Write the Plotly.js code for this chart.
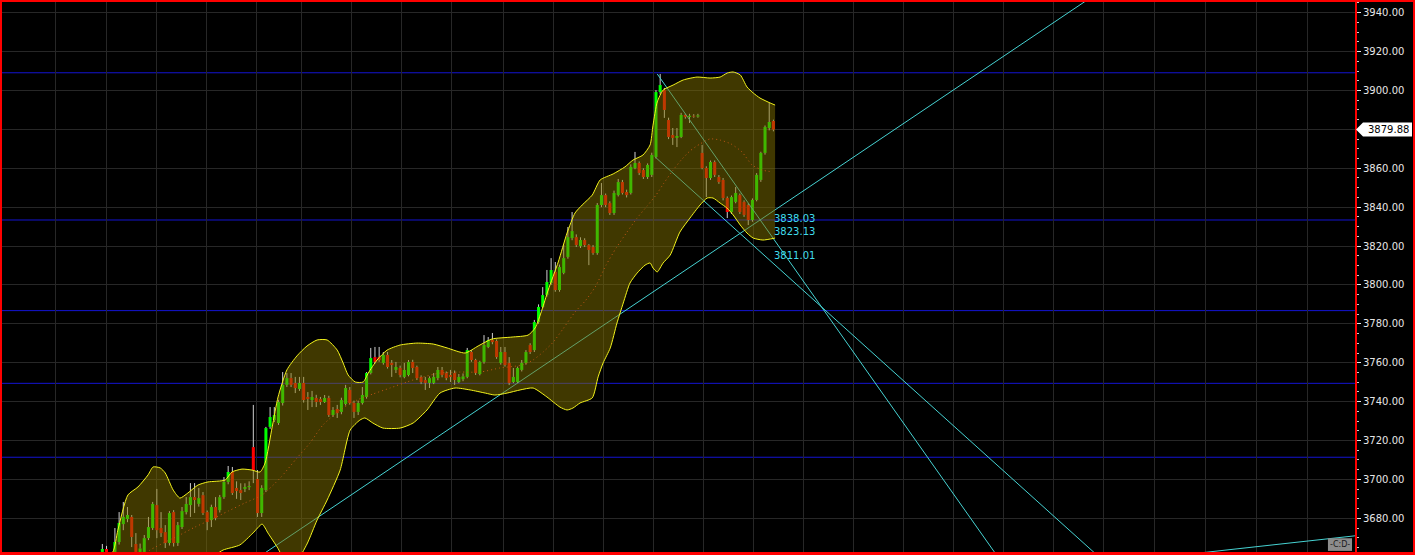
<!DOCTYPE html>
<html><head><meta charset="utf-8">
<script src="https://cdn.plot.ly/plotly-3.0.1.min.js"></script>
<style>
html,body{margin:0;padding:0;background:#000;overflow:hidden}
#chart{width:1415px;height:555px;position:absolute;left:0;top:0}
#frame{position:absolute;left:0;top:0;width:1415px;height:555px;box-sizing:border-box;border-style:solid;border-color:#ff0000;border-width:2px 2px 3px 2px;pointer-events:none}
</style></head><body>
<div id="chart"></div><div id="frame"></div>
<script>
// ---- candles (one per bar, oldest first) ----
const opens = [3662.7,3664.2,3661.0,3659.6,3667.8,3677.0,3679.6,3680.7,3666.8,3662.0,
3662.7,3669.8,3675.0,3686.8,3675.0,3672.9,3667.3,3683.2,3667.3,3675.5,
3683.2,3686.8,3690.9,3687.4,3691.9,3683.2,3679.1,3685.8,3684.2,3690.9,
3698.7,3703.8,3695.6,3694.5,3695.1,3696.0,3716.6,3700.2,3682.7,3694.5,
3727.0,3730.5,3729.0,3739.3,3748.6,3752.1,3749.6,3746.5,3749.6,3742.4,
3740.8,3741.9,3741.3,3739.8,3741.9,3733.1,3736.2,3734.7,3738.8,3746.0,
3739.3,3734.7,3739.3,3742.4,3754.7,3762.9,3762.9,3759.9,3764.0,3759.9,
3756.3,3757.3,3752.7,3753.7,3760.4,3757.8,3752.7,3751.1,3749.6,3749.6,
3752.1,3756.3,3754.7,3753.7,3754.7,3750.1,3751.5,3752.7,3765.5,3761.4,
3754.2,3760.4,3768.1,3771.7,3771.2,3759.9,3765.5,3759.9,3750.1,3750.1,
3756.3,3759.9,3769.1,3766.5,3780.9,3788.7,3794.8,3801.0,3806.7,3797.4,
3806.2,3814.4,3824.1,3824.6,3820.0,3823.1,3820.5,3819.5,3816.4,3841.1,
3846.2,3842.1,3837.0,3846.2,3852.9,3847.8,3847.3,3860.1,3862.7,3859.1,
3855.5,3856.6,3865.8,3899.2,3900.2,3884.8,3877.1,3875.6,3876.1,3887.4,
3886.4,3887.0,3886.6,3867.9,3860.1,3855.0,3863.2,3855.5,3854.0,3844.7,
3837.5,3842.7,3846.2,3842.7,3841.1,3833.4,3843.7,3854.0,3867.9,3880.7,
3884.3];
const highs = [3666.8,3665.8,3662.0,3675.0,3683.2,3688.4,3685.8,3681.7,3672.4,3667.0,
3671.4,3680.7,3688.4,3695.1,3683.2,3676.5,3683.7,3684.2,3678.1,3685.8,
3690.9,3698.1,3698.1,3695.6,3693.5,3684.0,3687.0,3690.9,3692.0,3701.2,
3706.9,3706.4,3699.0,3698.0,3698.0,3699.0,3738.3,3704.8,3697.0,3727.0,
3737.2,3737.2,3741.0,3755.2,3754.7,3754.7,3752.7,3752.7,3752.7,3744.9,
3745.5,3743.5,3742.4,3743.4,3743.0,3737.2,3738.3,3742.0,3748.6,3747.5,
3740.5,3740.5,3747.5,3755.2,3767.6,3768.1,3768.1,3765.5,3765.5,3761.4,
3760.4,3758.5,3759.9,3761.4,3761.5,3758.5,3753.5,3752.7,3753.0,3754.7,
3757.8,3757.8,3755.5,3756.3,3756.0,3754.2,3754.5,3767.6,3766.5,3762.0,
3761.0,3774.2,3773.2,3775.3,3772.0,3768.1,3768.1,3762.9,3757.3,3758.0,
3761.4,3766.5,3770.0,3782.0,3790.0,3798.9,3807.7,3813.8,3811.8,3810.5,
3820.5,3829.8,3837.5,3826.0,3824.5,3824.0,3821.0,3820.5,3842.1,3852.4,
3847.0,3843.0,3848.5,3854.5,3854.0,3849.0,3862.0,3868.4,3863.5,3860.0,
3862.5,3868.0,3900.2,3908.5,3901.3,3886.0,3880.7,3880.7,3888.5,3888.0,
3888.0,3887.8,3888.0,3872.0,3861.0,3864.0,3864.0,3856.5,3855.0,3845.5,
3846.0,3850.4,3847.0,3843.5,3842.0,3844.5,3857.5,3868.5,3882.0,3893.6,
3885.0];
const lows = [3661.1,3660.5,3657.5,3658.5,3666.5,3673.9,3678.0,3665.2,3660.0,3660.5,
3661.0,3668.8,3674.0,3669.8,3670.4,3664.7,3666.0,3665.5,3665.8,3674.5,
3682.0,3680.7,3682.7,3686.0,3681.7,3673.9,3675.5,3679.0,3683.0,3690.0,
3697.5,3692.0,3690.0,3689.4,3693.5,3694.5,3698.1,3680.7,3680.7,3693.5,
3726.0,3729.5,3728.0,3738.0,3747.5,3747.5,3744.4,3745.5,3739.5,3735.7,
3737.2,3737.2,3738.3,3739.3,3732.1,3732.1,3731.6,3733.5,3738.0,3738.5,
3731.6,3733.1,3738.5,3741.5,3754.0,3759.5,3760.5,3759.0,3757.0,3752.7,
3754.7,3752.5,3752.0,3753.0,3754.7,3751.1,3749.0,3746.0,3747.0,3749.0,
3751.0,3752.5,3751.0,3750.1,3748.6,3749.5,3750.5,3752.0,3760.5,3753.7,
3753.5,3759.5,3767.5,3769.5,3762.0,3759.0,3758.0,3748.5,3749.5,3749.5,
3755.5,3759.0,3764.5,3765.5,3780.0,3788.0,3794.0,3800.0,3796.5,3796.5,
3805.5,3813.5,3823.0,3819.5,3819.0,3819.5,3810.2,3815.5,3815.5,3840.0,
3840.0,3836.0,3836.0,3845.5,3846.5,3845.0,3846.5,3859.5,3856.5,3854.5,
3854.5,3855.5,3865.0,3898.0,3885.9,3875.0,3872.0,3870.9,3875.5,3885.5,
3883.3,3886.0,3886.0,3859.5,3845.2,3854.0,3855.5,3852.0,3843.5,3834.4,
3836.5,3842.0,3836.5,3835.0,3830.8,3832.5,3843.0,3853.0,3867.0,3879.5,
3879.0];
const closes = [3664.2,3662.7,3659.0,3667.8,3677.6,3680.7,3681.7,3670.4,3662.7,3664.5,
3669.8,3675.5,3687.4,3673.9,3672.4,3667.3,3682.7,3667.3,3676.5,3683.7,
3687.4,3690.9,3689.4,3690.4,3682.7,3678.1,3685.8,3680.1,3690.9,3698.7,
3703.8,3693.0,3694.0,3693.0,3696.1,3696.6,3704.8,3682.7,3695.6,3726.4,
3732.1,3733.1,3739.8,3748.6,3752.1,3748.6,3747.0,3749.6,3740.8,3741.3,
3742.4,3739.8,3739.8,3741.9,3733.1,3735.7,3734.1,3740.8,3747.0,3739.3,
3734.7,3739.3,3743.4,3754.7,3762.4,3760.4,3761.4,3764.0,3757.8,3758.8,
3757.8,3753.7,3756.3,3760.4,3757.3,3752.1,3750.1,3749.6,3752.1,3752.7,
3756.3,3753.7,3752.1,3752.7,3751.1,3752.7,3753.0,3766.5,3761.4,3754.7,
3760.4,3769.1,3771.7,3770.6,3762.9,3765.5,3758.8,3749.6,3752.7,3757.3,
3759.9,3765.5,3765.5,3780.9,3788.7,3794.8,3801.5,3807.7,3797.4,3809.2,
3813.8,3824.6,3827.7,3820.5,3823.1,3820.5,3818.0,3816.4,3841.1,3846.2,
3841.1,3837.0,3847.3,3852.9,3847.3,3846.2,3860.7,3862.7,3857.6,3855.5,
3861.7,3866.8,3899.2,3902.8,3890.0,3876.1,3875.6,3876.6,3887.4,3886.4,
3887.0,3886.6,3887.2,3860.1,3855.0,3863.2,3856.6,3852.9,3844.7,3837.5,
3845.2,3847.3,3837.5,3836.0,3833.4,3843.7,3856.6,3867.9,3881.2,3883.8,
3879.88];

// ---- Bollinger band (bar position, price) ----
const upperX = [-0.5,2.5,3.7,6.1,8.5,10.9,12.1,13.8,15.0,16.9,18.5,20.4,22.8,25.2,29.3,30.9,33.3,35.7,37.6,38.8,40.5,41.9,44.0,46.4,48.8,51.2,53.6,56.0,57.4,58.6,60.3,62.2,63.4,65.5,67.9,71.0,75.0,78.9,82.2,86.5,89.6,92.9,97.7,101.5,103.2,104.8,106.3,108.7,110.8,112.7,114.4,116.8,118.7,121.8,124.6,126.5,128.9,130.6,131.3,132.3,133.7,136.1,138.5,141.8,144.9,147.3,149.0,150.4,152.1,153.7,155.2,156.8,159.2,160.4];
const upperY = [3658.5,3662.7,3673.9,3692.0,3696.1,3702.3,3706.4,3705.9,3703.3,3694.5,3690.4,3693.0,3697.1,3698.7,3699.7,3703.8,3705.3,3704.8,3703.8,3708.4,3727.0,3742.4,3756.3,3763.5,3768.6,3771.7,3771.7,3766.5,3759.9,3753.7,3750.1,3750.1,3754.7,3761.4,3766.5,3769.1,3770.1,3769.6,3767.6,3765.0,3768.6,3772.2,3773.2,3774.2,3777.9,3787.1,3797.4,3811.8,3826.7,3837.0,3841.1,3846.2,3854.0,3857.1,3860.7,3864.2,3866.8,3872.0,3882.2,3894.1,3900.2,3902.8,3905.4,3906.9,3906.4,3906.9,3909.0,3909.5,3908.0,3901.8,3898.7,3896.1,3893.6,3892.5];
const lowerX = [-0.5,11.4,18.0,23.3,26.9,28.8,32.8,35.9,38.1,39.5,41.7,43.6,46.4,48.8,51.2,53.6,56.7,59.1,61.4,62.6,64.5,66.9,71.0,74.1,77.4,80.5,84.1,87.7,91.3,93.6,96.5,99.6,102.7,106.0,109.1,110.8,112.2,113.9,116.8,118.2,119.4,121.1,122.7,124.2,125.8,127.5,129.4,130.6,131.3,132.3,133.7,135.4,137.7,140.1,142.5,144.2,145.6,147.3,148.9,150.4,152.1,153.7,155.2,157.5,160.4];
const lowerY = [3617.4,3625.1,3650.3,3656.5,3661.1,3663.7,3666.3,3672.4,3677.0,3672.4,3665.2,3658.5,3658.5,3666.8,3679.1,3689.4,3704.8,3725.4,3730.5,3731.6,3729.0,3726.4,3726.4,3729.0,3735.7,3744.4,3747.0,3746.0,3744.4,3743.4,3744.4,3746.0,3747.0,3742.4,3737.2,3735.7,3736.7,3739.3,3741.9,3752.7,3759.9,3767.6,3780.4,3790.7,3801.0,3806.1,3810.2,3811.3,3808.7,3806.7,3811.3,3815.4,3827.2,3834.4,3841.1,3844.7,3844.7,3842.1,3839.6,3836.0,3830.8,3826.7,3824.1,3823.1,3824.1];
const midX = [6.6,11.4,15.0,18.0,22.1,25.7,30.0,34.0,38.1,42.4,46.4,49.5,52.6,56.7,60.7,64.5,68.6,72.6,76.5,80.5,85.3,90.1,94.8,100.1,102.7,105.1,107.5,109.8,112.7,115.1,117.5,120.1,122.5,125.1,127.5,129.9,132.0,133.9,136.1,138.0,140.1,142.5,144.9,147.3,149.9,152.5,154.9,157.3,159.9];
const midY = [3656.0,3663.7,3667.8,3670.9,3675.5,3679.1,3683.7,3687.9,3692.0,3700.7,3711.0,3718.7,3728.0,3735.7,3740.8,3743.9,3747.0,3750.1,3752.7,3754.7,3755.2,3755.2,3757.3,3758.8,3761.4,3765.5,3770.6,3777.3,3786.1,3791.7,3798.9,3810.2,3819.0,3827.2,3834.4,3840.6,3846.2,3852.4,3859.1,3864.2,3868.9,3872.5,3875.1,3874.5,3872.5,3868.4,3861.7,3859.1,3858.1];

// ---- horizontal level lines (price) ----
const levelPrices = [3909.1, 3833.4, 3786.8, 3749.4, 3711.4];

// ---- trend lines: start/end (bar position, price) ----
const trendX0 = [30, 132.3, 131.8, 255];
const trendY0 = [3649.49, 3908.5, 3865.8, 3660.6];
const trendX1 = [245, 225, 250, 305];
const trendY1 = [3961.3, 3625.0, 3636.1, 3672.5];
// values of the three fan lines at the last bar
const trendLabels = ['3838.03', '3823.13', '3811.01'];
const trendLabelValues = [3838.03, 3823.13, 3811.01];

const lastPrice = 3879.88;
// price-axis ticks
const yTicks = [3680,3700,3720,3740,3760,3780,3800,3820,3840,3860,3880,3900,3920,3940];
// vertical grid positions (bar position)
const gridBars = [-11.28,1.05,12.97,24.89,36.81,47.54,59.47,71.39,83.31,95.61,107.53,119.46,131.38,143.30,155.22,167.07,178.99,190.92,202.84,214.76,226.68,238.60,250.76,262.92,275.08,287.24];

// ---------------- build -----------------
const UP = '#00ff00', DOWN = '#ff0000';
const idx = closes.map((_, i) => i);
const bodyLow = [], bodyH = [], bodyCol = [];
const wx = [], wy = [];
idx.forEach(i => {
  const o = opens[i], c = closes[i];
  const top = Math.max(o, c), bot = Math.min(o, c);
  bodyLow.push(bot); bodyH.push(Math.max(top - bot, 0.4));
  bodyCol.push(c >= o ? UP : DOWN);
  wx.push(i, i, null, i, i, null);
  wy.push(top, highs[i], null, bot, lows[i], null);
});
const tx = [], ty = [];
trendX0.forEach((x0, k) => { tx.push(x0, trendX1[k], null); ty.push(trendY0[k], trendY1[k], null); });
// the 3880 label sits under the last-price flag, as in the original
const yTickText = yTicks.map(v => Math.abs(v - lastPrice) < 8 ? '' : v.toFixed(2));

const traces = [
  {type:'bar', x:idx, base:bodyLow, y:bodyH, width:0.72, marker:{color:bodyCol, line:{width:0}}, hoverinfo:'skip', showlegend:false},
  {type:'scatter', mode:'lines', x:wx, y:wy, line:{color:'#d0d0d0', width:1}, hoverinfo:'skip', showlegend:false, connectgaps:false},
  {type:'scatter', mode:'lines', x:tx, y:ty, line:{color:'#46d2d2', width:1}, hoverinfo:'skip', showlegend:false, connectgaps:false},
  {type:'scatter', mode:'lines', x:midX, y:midY, line:{color:'#ff3a2a', width:1, dash:'1px,3px', shape:'spline', smoothing:0.6}, hoverinfo:'skip', showlegend:false},
  {type:'scatter', mode:'lines', x:lowerX, y:lowerY, line:{width:0, shape:'spline', smoothing:0.6}, hoverinfo:'skip', showlegend:false},
  {type:'scatter', mode:'lines', x:upperX, y:upperY, line:{width:0, shape:'spline', smoothing:0.6}, fill:'tonexty', fillcolor:'rgba(128,112,0,0.5)', hoverinfo:'skip', showlegend:false},
  {type:'scatter', mode:'lines', x:upperX, y:upperY, line:{color:'#f4f41c', width:1, shape:'spline', smoothing:0.6}, hoverinfo:'skip', showlegend:false},
  {type:'scatter', mode:'lines', x:lowerX, y:lowerY, line:{color:'#f4f41c', width:1, shape:'spline', smoothing:0.6}, hoverinfo:'skip', showlegend:false}
];

const shapes = levelPrices.map(p => ({type:'line', xref:'paper', x0:0, x1:1, yref:'y', y0:p, y1:p, line:{color:'#1414d2', width:1}, layer:'below'}));
shapes.push({type:'path', xref:'paper', xsizemode:'pixel', xanchor:1, yref:'y', ysizemode:'pixel', yanchor:lastPrice,
  path:'M 1 0 L 8 -7 L 57 -7 L 57 7 L 8 7 Z', fillcolor:'#ffffff', line:{width:0}, layer:'above'});
shapes.push({type:'rect', xref:'paper', yref:'paper', x0:0.9800, x1:0.9978, y0:0.002, y1:0.025, fillcolor:'#8c8c8c', line:{width:0}, layer:'above'});

const annotations = trendLabels.map((t, k) => ({
  text:t, x:closes.length - 1, y:trendLabelValues[k], xref:'x', yref:'y', xanchor:'left',
  yanchor: k === 0 ? 'top' : 'bottom', yshift: k === 0 ? -1 : 2, xshift:0,
  showarrow:false, font:{family:'DejaVu Sans', size:10, color:'#40dcec'}, borderpad:0
}));
annotations.push({text:lastPrice.toFixed(2), xref:'paper', x:1.0246, xanchor:'center', yref:'y', y:lastPrice, yanchor:'middle',
  showarrow:false, font:{family:'DejaVu Sans', size:10, color:'#000000'}, borderpad:0});
annotations.push({text:'-C:D-', xref:'paper', x:0.9889, xanchor:'center', yref:'paper', y:0.0135, yanchor:'middle',
  showarrow:false, font:{family:'DejaVu Sans', size:8, color:'#1a1a1a'}, borderpad:0});

const layout = {
  width:1415, height:555,
  margin:{l:2, r:60, t:2, b:3, pad:0},
  paper_bgcolor:'#000000', plot_bgcolor:'#000000',
  showlegend:false, hovermode:false,
  xaxis:{range:[-23.92, 298.66], autorange:false, tickmode:'array', tickvals:gridBars, showticklabels:false, ticks:'',
    showgrid:true, gridcolor:'#272727', gridwidth:1, zeroline:false, showline:false, fixedrange:true},
  yaxis:{side:'right', range:[3662.67, 3945.5], autorange:false, tickmode:'array', tickvals:yTicks, ticktext:yTickText,
    tickfont:{family:'DejaVu Sans', size:10, color:'#e6e6e6'}, ticks:'outside', ticklen:4, tickwidth:1, tickcolor:'#e6e6e6',
    showgrid:true, gridcolor:'#272727', gridwidth:1, zeroline:false, showline:true, linecolor:'#ff0000', linewidth:2,
    minor:{tick0:3680, dtick:5, ticks:'outside', ticklen:2, tickcolor:'#d0d0d0', tickwidth:1, showgrid:false},
    fixedrange:true},
  shapes:shapes, annotations:annotations
};
Plotly.newPlot('chart', traces, layout, {staticPlot:true, displayModeBar:false});
</script></body></html>
